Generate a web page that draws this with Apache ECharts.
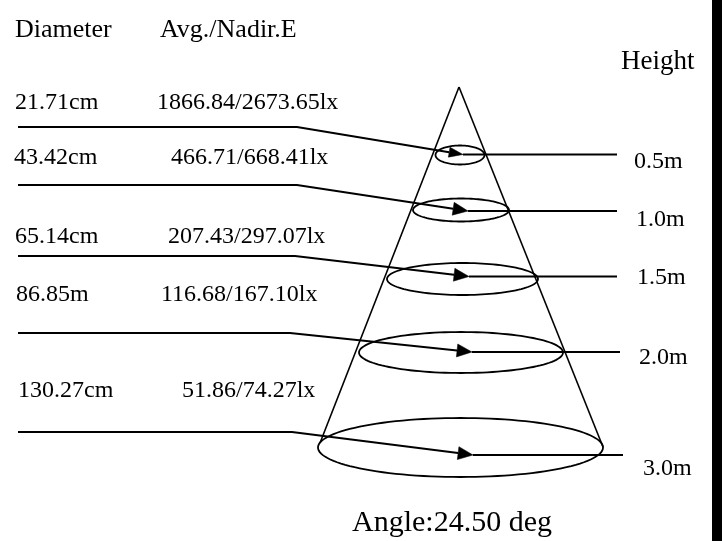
<!DOCTYPE html>
<html><head><meta charset="utf-8">
<script src="https://cdn.jsdelivr.net/npm/echarts@6/dist/echarts.min.js"></script>
<style>html,body{margin:0;padding:0;background:#fff}#c{width:722px;height:541px}</style>
</head><body><div id="c"></div><script>
// ---- data ----
const heightLabels = ['0.5m', '1.0m', '1.5m', '2.0m', '3.0m'];
const diameterLabels = ['21.71cm', '43.42cm', '65.14cm', '86.85m', '130.27cm'];
const illuminanceLabels = ['1866.84/2673.65lx', '466.71/668.41lx', '207.43/297.07lx', '116.68/167.10lx', '51.86/74.27lx'];
const headerLabels = ['Diameter', 'Avg./Nadir.E', 'Height'];
const angleLabel = 'Angle:24.50 deg';

// ---- schematic layout (drawing units of the hidden axes) ----
const coneApex = [459, 87];
const coneFeet = [[320, 443], [603, 447]];
const ringCX = [460, 461, 462.5, 461, 460.5];
const ringCY = [155, 210, 279, 352.5, 447.5];
const ringRX = [24.5, 48, 75.5, 102, 142.5];
const ringRY = [9.5, 11.5, 16, 20.5, 29.5];
const arrowTipX = [463, 468, 469, 472, 473];
const arrowTipY = [154.5, 211, 276.5, 352, 455];
const leaderY = [127, 185, 256, 333, 432];
const leaderBendX = [297, 297, 295, 290, 292];
const leaderStartX = 18;
const heightLineEndX = [617, 617, 617, 620, 623];
const diameterLabelX = [15, 14, 15, 16, 18];
const illumLabelX = [157, 171, 168, 161, 182];
const rowLabelY = [103, 158, 237, 295, 391];
const heightLabelX = [634, 636, 637, 639, 643];
const heightLabelY = [162, 220, 278, 358, 469];
const headerX = [15, 160, 621];
const headerY = [30, 30, 62];
const headerSize = [26, 26, 27];
const angleLabelPos = [352, 523];

const FONT = '"Liberation Serif", "Times New Roman", serif';

const chart = echarts.init(document.getElementById('c'), null, {renderer: 'canvas'});

function renderItem(params, api) {
  const c = (x, y) => api.coord([x, y]);
  const kids = [];
  const ink = '#000';
  // cone
  const a = c(coneApex[0], coneApex[1]);
  coneFeet.forEach(f => {
    const p = c(f[0], f[1]);
    kids.push({type: 'line', shape: {x1: a[0], y1: a[1], x2: p[0], y2: p[1]}, style: {stroke: ink, lineWidth: 1.6}});
  });
  for (let i = 0; i < heightLabels.length; i++) {
    // ring (ellipse)
    const ctr = c(ringCX[i], ringCY[i]);
    const ex = c(ringCX[i] + ringRX[i], ringCY[i] + ringRY[i]);
    const rx = Math.abs(ex[0] - ctr[0]), ry = Math.abs(ex[1] - ctr[1]);
    const pts = [];
    for (let k = 0; k < 120; k++) {
      const t = k / 120 * Math.PI * 2;
      pts.push([ctr[0] + rx * Math.cos(t), ctr[1] + ry * Math.sin(t)]);
    }
    kids.push({type: 'polygon', shape: {points: pts}, style: {fill: 'none', stroke: ink, lineWidth: 1.8}});
    // leader line
    const s = c(leaderStartX, leaderY[i]);
    const b = c(leaderBendX[i], leaderY[i]);
    const tip = c(arrowTipX[i], arrowTipY[i]);
    const dx = tip[0] - b[0], dy = tip[1] - b[1];
    const len = Math.hypot(dx, dy);
    const ux = dx / len, uy = dy / len;
    const L = i === 0 ? 14 : 15, W = i === 0 ? 5 : 6.5;
    const base = [tip[0] - ux * L, tip[1] - uy * L];
    kids.push({type: 'polyline', shape: {points: [s, b, base]}, style: {fill: 'none', stroke: ink, lineWidth: 2}});
    kids.push({type: 'polygon', shape: {points: [tip, [base[0] - uy * W, base[1] + ux * W], [base[0] + uy * W, base[1] - ux * W]]}, style: {fill: ink, stroke: ink, lineWidth: 0.5}});
    // height line
    const he = c(heightLineEndX[i], arrowTipY[i]);
    kids.push({type: 'line', shape: {x1: tip[0], y1: tip[1], x2: he[0], y2: he[1]}, style: {stroke: ink, lineWidth: 2}});
    // labels
    const dl = c(diameterLabelX[i], rowLabelY[i]);
    kids.push({type: 'text', x: dl[0], y: dl[1], style: {text: diameterLabels[i], font: '24px ' + FONT, fill: ink, align: 'left', verticalAlign: 'middle'}});
    const il = c(illumLabelX[i], rowLabelY[i]);
    kids.push({type: 'text', x: il[0], y: il[1], style: {text: illuminanceLabels[i], font: '24px ' + FONT, fill: ink, align: 'left', verticalAlign: 'middle'}});
    const hl = c(heightLabelX[i], heightLabelY[i]);
    kids.push({type: 'text', x: hl[0], y: hl[1], style: {text: heightLabels[i], font: '24px ' + FONT, fill: ink, align: 'left', verticalAlign: 'middle'}});
  }
  headerLabels.forEach((t, j) => {
    const p = c(headerX[j], headerY[j]);
    kids.push({type: 'text', x: p[0], y: p[1], style: {text: t, font: headerSize[j] + 'px ' + FONT, fill: ink, align: 'left', verticalAlign: 'middle'}});
  });
  const ap = c(angleLabelPos[0], angleLabelPos[1]);
  kids.push({type: 'text', x: ap[0], y: ap[1], style: {text: angleLabel, font: '30px ' + FONT, fill: ink, align: 'left', verticalAlign: 'middle'}});
  return {type: 'group', children: kids};
}

chart.setOption({
  animation: false,
  backgroundColor: '#fff',
  grid: {left: 0, right: 0, top: 0, bottom: 0},
  xAxis: {type: 'value', min: 0, max: 722, show: false},
  yAxis: {type: 'value', min: 0, max: 541, inverse: true, show: false},
  graphic: [{type: 'rect', right: 0, top: 0, shape: {width: 10, height: 541}, style: {fill: '#000'}}],
  series: [{type: 'custom', renderItem: renderItem, data: [[0, 0]], silent: true, clip: false}]
});
</script></body></html>
